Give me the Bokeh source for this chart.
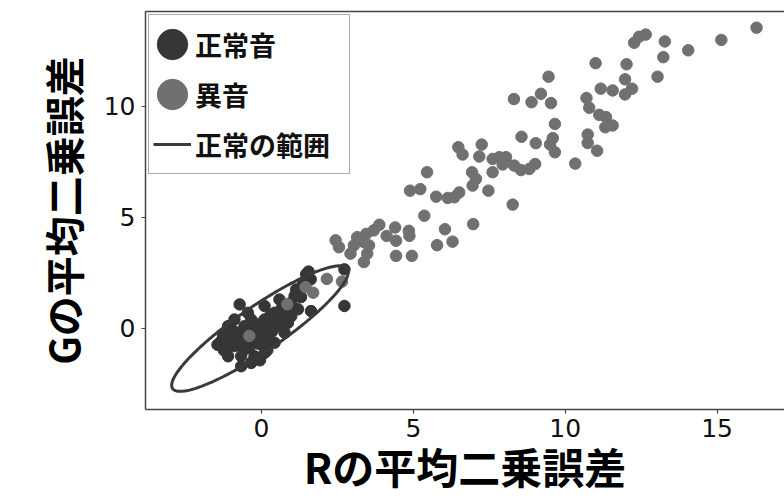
import numpy as np
from bokeh.plotting import figure
from bokeh.models import (Range1d, LinearAxis, FixedTicker, Legend, LegendItem,
                          ColumnDataSource)
from bokeh.embed import file_html
from bokeh.resources import INLINE

# ---- data ----
normal_x = [-0.72, 0.10, -1.10, -1.33, -1.16, -0.67, -0.23, 0.10, 1.63, 2.73,
            2.73, 1.47, 1.36, 1.09, 0.98, 0.65, 0.32, 0.54, -0.01, -0.34,
            -0.45, -0.78, -1.00, -0.89, -0.56, -0.34, -0.12, 0.21, 0.87, 0.76,
            1.20, 0.98, -0.67, -1.10, -1.27, -0.34, 0.10, 0.43, -0.56, -0.23,
            0.10, 0.43, 0.59, 1.14, -0.89, 1.55, 1.62, -1.24, 0.19, -0.90,
            -0.60, -0.40, -0.10, 0.25, 0.50, 0.80, 1.30, -1.45, -0.05, 0.35,
            -1.20, -0.95, -0.70, -0.20, 0.00, 0.30, 0.65, -1.05, -0.45, 0.15]
normal_y = [1.07, 1.00, 0.09, -0.59, -0.96, -1.72, -1.27, -0.81, 0.77, 1.00,
            2.65, 2.43, 1.97, 1.45, 1.15, 0.85, 0.39, 0.09, 0.01, 0.39,
            0.69, -0.21, -0.36, -0.81, -0.96, -0.51, -0.36, -0.36, 0.24, -0.21,
            0.85, 0.54, -1.27, -1.27, -0.29, -1.57, -1.12, -0.66, 0.09, -0.06,
            0.39, 0.69, 1.29, 1.74, 0.39, 2.55, 2.20, -1.00, -1.00, -0.45,
            -0.50, -0.90, -0.70, 0.05, 0.40, 0.90, 1.40, -0.75, -1.45, -0.15,
            -0.45, -0.10, -0.75, 0.20, -0.45, 0.60, 0.55, -0.65, -0.15, -0.55]

anomaly_x = [-0.40, 0.85, 1.45, 1.70, 2.15, 2.65,
             2.44, 2.55, 3.15, 3.04, 2.93, 3.37, 3.54, 3.48, 3.37, 3.70, 3.45,
             16.30, 15.14, 14.05, 13.28, 13.23, 13.04, 12.65, 12.43, 12.27, 12.02,
             11.97, 12.20, 11.97, 11.56, 11.17, 11.00, 10.70, 10.79, 11.12, 11.34,
             11.56, 11.32, 10.74, 10.74, 11.05, 10.33, 9.45, 9.20, 8.89, 9.53,
             8.31, 9.66, 9.59, 9.50, 9.66, 9.03, 8.56, 9.01, 8.82, 8.54,
             8.32, 8.05, 7.83, 7.61, 7.94, 8.27, 7.61, 7.25, 7.17, 6.48,
             6.62, 6.93, 7.06, 6.95, 7.47, 5.45, 4.89, 5.23, 5.75, 6.13,
             6.35, 6.51, 5.36, 6.04, 6.29, 5.78, 6.97, 3.88, 4.12, 4.40,
             4.43, 4.85, 4.87, 4.43, 4.95]
anomaly_y = [-0.35, 1.08, 1.85, 1.60, 2.22, 2.10,
             3.96, 3.65, 4.10, 3.73, 3.36, 3.88, 3.73, 3.36, 2.98, 4.41, 4.25,
             13.55, 13.00, 12.53, 12.93, 12.22, 11.34, 13.24, 13.14, 12.87, 11.90,
             11.22, 10.80, 10.54, 10.72, 10.80, 11.95, 10.38, 9.94, 9.62, 9.52,
             9.14, 9.06, 8.73, 8.35, 8.00, 7.42, 11.34, 10.57, 10.19, 10.15,
             10.33, 9.21, 8.57, 8.28, 7.93, 8.34, 8.63, 7.40, 7.18, 7.13,
             7.33, 7.71, 7.71, 7.63, 7.38, 5.57, 7.03, 8.28, 7.74, 8.16,
             7.83, 7.03, 6.73, 6.43, 6.20, 7.03, 6.20, 6.27, 5.93, 5.87,
             5.90, 6.12, 5.07, 4.46, 3.90, 3.74, 4.69, 4.66, 4.16, 4.54,
             3.94, 4.39, 4.16, 3.26, 3.26]

x_ticks = [0, 5, 10, 15]
y_ticks = [0, 5, 10]

# normal range ellipse: centre and two conjugate semi-diameters
ellipse_center = (-0.05, -0.02)
ellipse_u = (2.88, 2.70)
ellipse_v = (0.40, -0.85)

labels = ["正常音", "異音", "正常の範囲"]
x_title = "Rの平均二乗誤差"
y_title = "Gの平均二乗誤差"

DARK = "#363636"
GRAY = "#707070"
AXIS = "#444444"
CJK = "Noto Sans CJK JP"

p = figure(width=784, height=499,
           x_range=Range1d(-3.82, 17.22), y_range=Range1d(-3.67, 14.28),
           output_backend="svg", toolbar_location=None,
           min_border_left=145, min_border_right=0,
           min_border_top=11, min_border_bottom=90,
           x_axis_label=x_title, y_axis_label=y_title)
p.outline_line_color = None
p.grid.visible = False

for ax, ticks in ((p.xaxis[0], x_ticks), (p.yaxis[0], y_ticks)):
    ax.ticker = FixedTicker(ticks=ticks)
    ax.major_tick_in = 0
    ax.major_tick_out = 4
    ax.minor_tick_out = 0
    ax.minor_tick_in = 0
    ax.axis_line_color = AXIS
    ax.axis_line_width = 1.5
    ax.major_tick_line_color = AXIS
    ax.major_tick_line_width = 1.2
    ax.major_label_text_font = "DejaVu Sans"
    ax.major_label_text_font_size = "25px"
    ax.major_label_text_color = "#111111"
    ax.axis_label_text_font = CJK
    ax.axis_label_text_font_style = "bold"
    ax.axis_label_text_color = "#000000"

p.xaxis.major_label_standoff = 5
p.xaxis.axis_label_text_font_size = "42px"
p.xaxis.axis_label_standoff = -5
p.yaxis.major_label_standoff = 6
p.yaxis.axis_label_text_font_size = "40px"
p.yaxis.axis_label_standoff = 9

top = LinearAxis(ticker=FixedTicker(ticks=[]), axis_line_color=AXIS,
                 axis_line_width=1.5, major_tick_out=0, minor_tick_out=0,
                 major_label_text_font_size="0px")
p.add_layout(top, "above")

src_n = ColumnDataSource(dict(x=normal_x, y=normal_y))
src_a = ColumnDataSource(dict(x=anomaly_x, y=anomaly_y))

r_n = p.ellipse(x="x", y="y", width=11.5, height=11.5,
                width_units="screen", height_units="screen",
                source=src_n, fill_color=DARK, line_color=DARK)
r_a = p.ellipse(x="x", y="y", width=11.5, height=11.5,
                width_units="screen", height_units="screen",
                source=src_a, fill_color=GRAY, line_color=GRAY)

t = np.linspace(0, 2 * np.pi, 241)
ex = ellipse_center[0] + ellipse_u[0] * np.cos(t) + ellipse_v[0] * np.sin(t)
ey = ellipse_center[1] + ellipse_u[1] * np.cos(t) + ellipse_v[1] * np.sin(t)
r_e = p.line(ex, ey, line_color="#3a3a3a", line_width=3)

legend = Legend(items=[LegendItem(label=labels[0], renderers=[r_n]),
                       LegendItem(label=labels[1], renderers=[r_a]),
                       LegendItem(label=labels[2], renderers=[r_e])],
                location="top_left", margin=3, padding=4, spacing=0,
                glyph_width=38, glyph_height=50, label_standoff=4,
                label_width=150,
                label_text_font=CJK, label_text_font_style="bold",
                label_text_font_size="27px", label_text_color="#111111",
                border_line_color="#555555", border_line_width=1.5,
                background_fill_color="white", background_fill_alpha=1.0)
p.add_layout(legend)

open("out.html", "w").write(file_html(p, INLINE))
